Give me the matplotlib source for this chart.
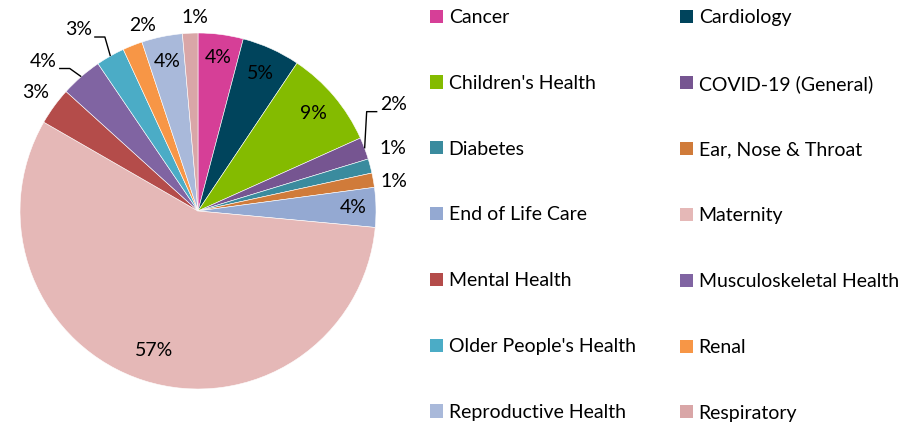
import numpy as np
import matplotlib.pyplot as plt
from matplotlib.patches import Patch

plt.rcParams['font.family'] = ['Lato', 'DejaVu Sans']

categories = ["Cancer", "Cardiology", "Children's Health", "COVID-19 (General)",
              "Diabetes", "Ear, Nose & Throat", "End of Life Care", "Maternity",
              "Mental Health", "Musculoskeletal Health", "Older People's Health",
              "Renal", "Reproductive Health", "Respiratory"]
shares = [4.1, 5.3, 8.9, 2.0, 1.3, 1.3, 3.6, 56.9, 3.4, 3.8, 2.6, 1.8, 3.7, 1.4]
pct_labels = ["4%", "5%", "9%", "2%", "1%", "1%", "4%", "57%",
              "3%", "4%", "3%", "2%", "4%", "1%"]
colors = ["#D63F97", "#00445C", "#84BB00", "#765591", "#3A8B9E", "#D07B3A",
          "#94A9D2", "#E5B8B7", "#B44C4A", "#8064A2", "#4BACC6", "#F79646",
          "#A9B9DA", "#D9A6A7"]

# label placement: radius (in pie radii), angle shift (deg, clockwise), leader line
lab_r = [0.87, 0.85, 0.85, 1.25, 1.15, 1.11, 0.87, 0.82,
         1.13, 1.21, 1.22, 1.09, 0.86, 1.09]
lab_shift = [0, 0, 0, -8, -3, 1.5, 0, 0, 0, -5, -4, 5, 0, 1.5]
leader = [False, False, False, True, False, False, False, False,
          False, True, True, False, False, False]

W, H = 921, 425
R = 178.0
fig = plt.figure(figsize=(W / 100, H / 100), dpi=100)
ax = fig.add_axes([0, 0, 400 / W, 1])
cx, cy = 198, H - 211

wedges, _ = ax.pie(shares, colors=colors, startangle=90, counterclock=False,
                   radius=1.0, wedgeprops=dict(edgecolor='white', linewidth=0.4))
ax.set_aspect('auto')
ax.set_xlim(-cx / R, (400 - cx) / R)
ax.set_ylim(-cy / R, (H - cy) / R)
ax.axis('off')

fs = 14
total = sum(shares)
cum = 0
for i, v in enumerate(shares):
    mid = (cum + v / 2) / total * 360
    cum += v
    a = np.deg2rad(mid + lab_shift[i])
    lx, ly = lab_r[i] * np.sin(a), lab_r[i] * np.cos(a)
    ax.text(lx, ly, pct_labels[i], ha='center', va='center', fontsize=fs, color='black')
    if leader[i]:
        m = np.deg2rad(mid)
        ex, ey = np.sin(m), np.cos(m)
        side = 1 if lx > 0 else -1
        yl = ly - 0.04
        ax.plot([ex, lx - side * 0.15, lx - side * 0.09], [ey, yl, yl],
                color='black', lw=1.0, solid_capstyle='butt')

handles = [Patch(facecolor=c, edgecolor='none') for c in colors]
for col, x0 in enumerate([430 / W, 680 / W]):
    idx = list(range(col, len(categories), 2))
    fig.legend([handles[k] for k in idx], [categories[k] for k in idx],
               loc='upper left', bbox_to_anchor=(x0, 1 - 9 / H), frameon=False,
               fontsize=fs, handlelength=0.66, handleheight=0.66, handletextpad=0.3,
               labelspacing=2.51, borderaxespad=0, borderpad=0)

fig.savefig('out.png', dpi=100)
